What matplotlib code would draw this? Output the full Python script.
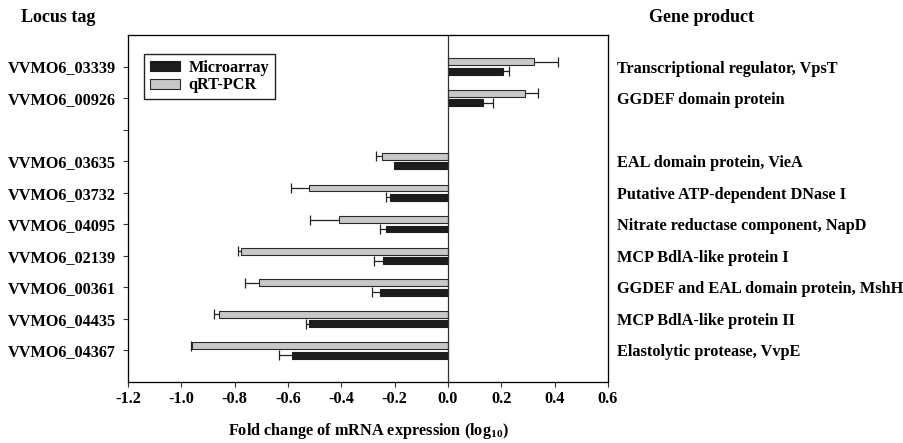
import numpy as np
import matplotlib.pyplot as plt

plt.rcParams['font.family'] = 'Liberation Serif'
plt.rcParams['font.weight'] = 'bold'
plt.rcParams['mathtext.fontset'] = 'custom'
plt.rcParams['mathtext.rm'] = 'Liberation Serif:bold'
plt.rcParams['mathtext.bf'] = 'Liberation Serif:bold'

# Data (log10 fold change), blank row separates up/down regulated genes
locus_tags = ["VVMO6_03339", "VVMO6_00926", "", "VVMO6_03635", "VVMO6_03732",
              "VVMO6_04095", "VVMO6_02139", "VVMO6_00361", "VVMO6_04435", "VVMO6_04367"]
gene_products = ["Transcriptional regulator, VpsT", "GGDEF domain protein", "",
                 "EAL domain protein, VieA", "Putative ATP-dependent DNase I",
                 "Nitrate reductase component, NapD", "MCP BdlA-like protein I",
                 "GGDEF and EAL domain protein, MshH", "MCP BdlA-like protein II",
                 "Elastolytic protease, VvpE"]
microarray = [0.205, 0.130, np.nan, -0.203, -0.218, -0.233, -0.243, -0.255, -0.521, -0.586]
microarray_err = [0.025, 0.040, 0.0, 0.0, 0.016, 0.023, 0.033, 0.031, 0.013, 0.047]
qrtpcr = [0.324, 0.290, np.nan, -0.246, -0.521, -0.408, -0.776, -0.708, -0.859, -0.959]
qrtpcr_err = [0.087, 0.049, 0.0, 0.024, 0.069, 0.108, 0.010, 0.054, 0.018, 0.003]
xticks = [-1.2, -1.0, -0.8, -0.6, -0.4, -0.2, 0.0, 0.2, 0.4, 0.6]

y = np.arange(1, len(locus_tags) + 1)
h = 0.22
off = 0.15
fs = 11.7

def one_sided(ax, ypos, vals, errs):
    # error bars drawn only away from zero, cap only at the outer end
    for yy, v, e in zip(ypos, vals, errs):
        if np.isnan(v) or e <= 0:
            continue
        end = v + e if v >= 0 else v - e
        ax.hlines(yy, v, end, color='#222222', linewidth=0.9, zorder=2)
        ax.plot([end], [yy], marker='|', markersize=7, markeredgewidth=0.9,
                color='#222222', zorder=2)

fig = plt.figure(figsize=(9.04, 4.43), dpi=100)
ax = fig.add_axes([128 / 904, 1 - 382 / 443, 480 / 904, 347 / 443])

ax.barh(y - off, qrtpcr, height=h, color='#c8c8c8', edgecolor='#2a2a2a', linewidth=0.8,
        label='qRT-PCR', zorder=3)
ax.barh(y + off, microarray, height=h, color='#1c1c1c', edgecolor='#1c1c1c', linewidth=0.8,
        label='Microarray', zorder=3)
one_sided(ax, y - off, qrtpcr, qrtpcr_err)
one_sided(ax, y + off, microarray, microarray_err)

ax.axvline(0, color='#333333', linewidth=0.9, zorder=4)
ax.set_xlim(-1.2, 0.6)
ax.set_ylim(len(locus_tags) + 1, 0)
ax.set_xticks(xticks)
ax.set_xticklabels([f"{v:.1f}" for v in xticks], fontsize=fs, fontweight='bold')
ax.set_yticks(y)
ax.set_yticklabels(locus_tags, fontsize=fs, fontweight='bold')
ax.tick_params(axis='both', direction='out', length=3.6, width=0.8, color='#333333')
ax.tick_params(axis='y', pad=5)
ax.tick_params(axis='x', pad=3)
for s in ax.spines.values():
    s.set_color('#333333')
    s.set_linewidth(0.9)

ax2 = ax.twinx()
ax2.set_ylim(ax.get_ylim())
ax2.set_yticks(y)
ax2.set_yticklabels(gene_products, fontsize=fs, fontweight='bold')
ax2.tick_params(axis='y', length=0, pad=6.5)

ax.set_xlabel("Fold change of mRNA expression (log$_{10}$)", fontsize=fs,
              fontweight='bold', labelpad=10)

handles, labels = ax.get_legend_handles_labels()
leg = ax.legend(handles[::-1], labels[::-1], loc='upper left', bbox_to_anchor=(0.033, 0.945),
                fancybox=False, edgecolor='#222222', framealpha=1,
                handlelength=1.9, handleheight=0.6, handletextpad=0.5, borderpad=0.35,
                labelspacing=0.1, borderaxespad=0, prop={'weight': 'bold', 'size': fs})
leg.get_frame().set_linewidth(1.0)

fig.text(21 / 904, 1 - 18 / 443, "Locus tag", fontsize=13, fontweight='bold', va='center')
fig.text(649 / 904, 1 - 17 / 443, "Gene product", fontsize=13, fontweight='bold', va='center')

fig.savefig("out.png", dpi=100)
